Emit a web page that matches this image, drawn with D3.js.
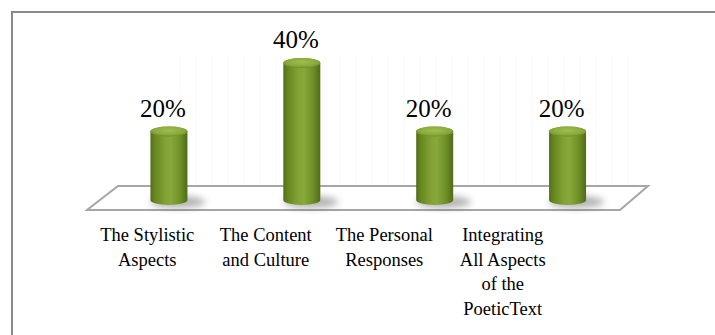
<!DOCTYPE html>
<html>
<head>
<meta charset="utf-8">
<script src="https://cdn.jsdelivr.net/npm/d3@7"></script>
<style>
  html, body { margin: 0; padding: 0; background: #fff; }
  svg { display: block; }
  text { font-family: "Liberation Serif", "Times New Roman", serif; }
</style>
</head>
<body>
<svg id="chart" width="715" height="335"></svg>
<script>
// Categories (one array entry per bar, line breaks as separate lines)
const categories = [
  ["The Stylistic", "Aspects"],
  ["The Content", "and Culture"],
  ["The Personal", "Responses"],
  ["Integrating", "All Aspects", "of the", "PoeticText"]
];
const values = [20, 40, 20, 20];
const valueLabels = ["20%", "40%", "20%", "20%"];

const svg = d3.select("#chart");
const defs = svg.append("defs");
const serif = '"Liberation Serif", "Times New Roman", serif';

// Cylinder body gradient (dark edges, light centre)
const gBody = defs.append("linearGradient").attr("id", "cylBody")
  .attr("x1", "0%").attr("x2", "100%").attr("y1", "0%").attr("y2", "0%");
[[0, "#526e1b"], [0.12, "#66871f"], [0.4, "#83a135"], [0.55, "#88a83b"],
 [0.8, "#6f9026"], [1, "#506b19"]].forEach(([o, c]) =>
  gBody.append("stop").attr("offset", o).attr("stop-color", c));

const gTop = defs.append("radialGradient").attr("id", "cylTop")
  .attr("cx", "50%").attr("cy", "40%").attr("r", "60%");
[[0, "#9ebe4e"], [0.7, "#89aa3b"], [1, "#6c8c25"]].forEach(([o, c]) =>
  gTop.append("stop").attr("offset", o).attr("stop-color", c));

defs.append("filter").attr("id", "blur").attr("x", "-50%").attr("y", "-50%")
  .attr("width", "200%").attr("height", "200%")
  .append("feGaussianBlur").attr("stdDeviation", 3.5);

// Outer frame (right and bottom edges fall outside the view)
svg.append("rect")
  .attr("x", 12).attr("y", 12).attr("width", 720).attr("height", 340)
  .attr("fill", "#fff").attr("stroke", "#8a8a8a").attr("stroke-width", 2);

// Floor geometry
const back = { y: 186, x0: 118, x1: 648 };
const front = { y: 210, x0: 87, x1: 620 };

// Faint back wall stripes
const wall = svg.append("g").attr("opacity", 0.45);
d3.range(180, 640, 16).forEach(x => {
  wall.append("line").attr("x1", x).attr("x2", x).attr("y1", 55).attr("y2", back.y)
    .attr("stroke", "#f0f0f0").attr("stroke-width", 1);
});

// Floor plate
svg.append("path")
  .attr("d", `M${back.x0},${back.y} L${back.x1},${back.y} L${front.x1},${front.y} L${front.x0},${front.y} Z`)
  .attr("fill", "#fff").attr("stroke", "#a6a6a6").attr("stroke-width", 2)
  .attr("stroke-linejoin", "miter");

// Scales
const xBar = d3.scaleBand().domain(d3.range(categories.length))
  .range([(back.x0 + front.x0) / 2, (back.x1 + front.x1) / 2]).paddingInner(0.72).paddingOuter(0.36);
const xLab = d3.scaleBand().domain(d3.range(categories.length)).range([88, 562]);
const y = d3.scaleLinear().domain([0, 40]).range([200, 63]);

const rx = 18.5, ry = 5;

const bars = svg.append("g").selectAll("g").data(values).join("g");

// shadow on the floor
bars.append("ellipse")
  .attr("cx", (d, i) => xBar(i) + xBar.bandwidth() / 2 + 9)
  .attr("cy", y(0) + 2)
  .attr("rx", rx + 9).attr("ry", 6)
  .attr("fill", "#555").attr("opacity", 0.45).attr("filter", "url(#blur)");

// cylinder body
bars.append("path")
  .attr("d", (d, i) => {
    const cx = xBar(i) + xBar.bandwidth() / 2;
    const yt = y(d), yb = y(0);
    return `M${cx - rx},${yt} L${cx - rx},${yb} A${rx},${ry} 0 0 0 ${cx + rx},${yb} L${cx + rx},${yt} A${rx},${ry} 0 0 0 ${cx - rx},${yt} Z`;
  })
  .attr("fill", "url(#cylBody)");

// cylinder cap
bars.append("ellipse")
  .attr("cx", (d, i) => xBar(i) + xBar.bandwidth() / 2)
  .attr("cy", d => y(d))
  .attr("rx", rx).attr("ry", ry)
  .attr("fill", "url(#cylTop)");

// value labels
bars.append("text")
  .attr("x", (d, i) => xBar(i) + xBar.bandwidth() / 2 - 6)
  .attr("y", d => y(d) - ry - 10)
  .attr("text-anchor", "middle")
  .style("font-family", serif)
  .style("font-size", "25px").attr("fill", "#000")
  .text((d, i) => valueLabels[i]);

// category labels
const cat = svg.append("g").selectAll("text").data(categories).join("text")
  .attr("text-anchor", "middle")
  .style("font-family", serif)
  .style("font-size", "18.5px").attr("fill", "#000")
  .attr("transform", (d, i) => `translate(${xLab(i) + xLab.bandwidth() / 2},241)`);
cat.selectAll("tspan").data(d => d).join("tspan")
  .attr("x", 0).attr("y", (d, j) => j * 24.5)
  .text(d => d);
</script>
</body>
</html>
